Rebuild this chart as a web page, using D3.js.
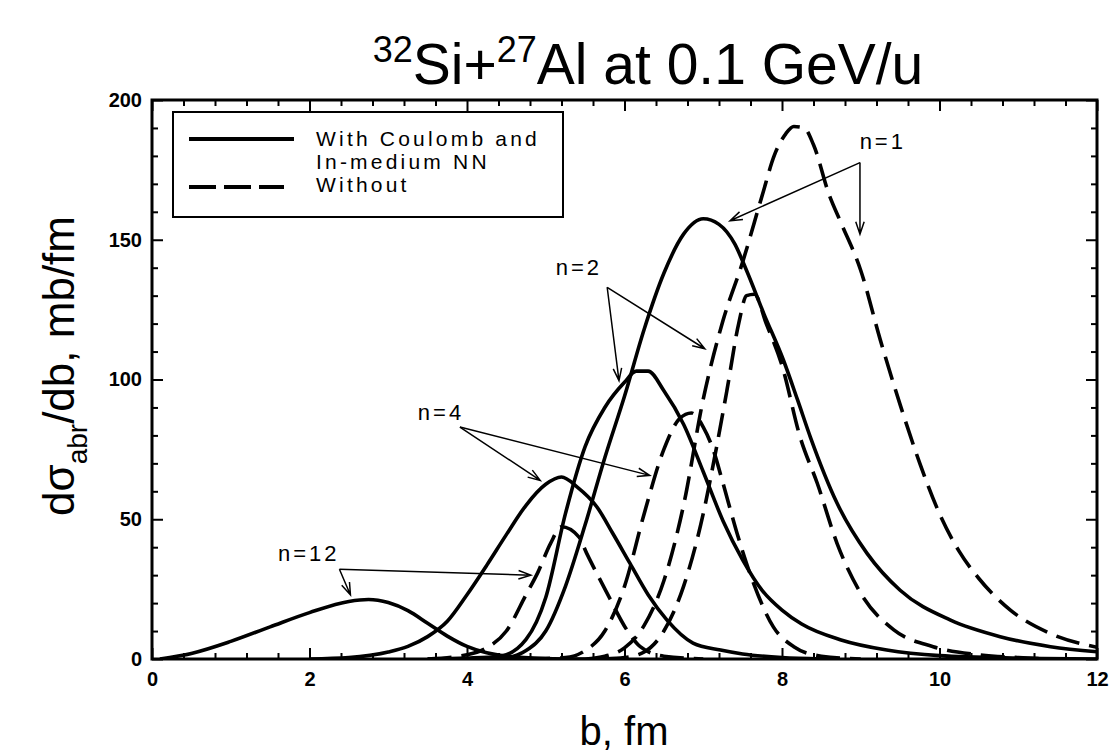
<!DOCTYPE html>
<html>
<head>
<meta charset="utf-8">
<script src="https://cdn.jsdelivr.net/npm/d3@7"></script>
<style>
  body { margin: 0; background: #fff; }
  svg { display: block; }
</style>
</head>
<body>
<svg id="chart" width="1111" height="756"></svg>
<script>
// b (fm), dsigma/db (mb/fm)
// "With Coulomb and In-medium NN" (solid)
const n1With = [[4.0,0],[4.5,0.5],[4.75,3],[5.0,10],[5.25,26],[5.5,48],[5.75,72],[6.0,94],[6.25,118],[6.5,138],[6.75,152],[7.0,157.5],[7.2,155.5],[7.4,148.5],[7.55,139],[7.77,123.5],[8.02,106.8],[8.2,92.5],[8.36,79.4],[8.7,55.7],[9.08,37.8],[9.5,24.6],[10.14,13.9],[10.77,8],[11.41,4.4],[12,2.6]];
const n2With = [[3.5,0],[4.0,0.3],[4.42,1],[4.75,7],[5.0,22],[5.25,52],[5.5,76],[5.75,90],[6.0,99],[6.15,103],[6.3,103],[6.5,96],[6.75,84],[7.0,67],[7.25,49.5],[7.5,35.5],[7.75,24.5],[8.0,17.5],[8.25,12.5],[8.75,6.8],[9.33,3.2],[10,1.2],[11,0.3],[12,0]];
const n4With = [[2.0,0],[2.5,0.5],[3.0,2.5],[3.25,4.5],[3.5,8],[3.75,13.5],[4.0,23],[4.25,33.5],[4.5,44.5],[4.75,55],[5.0,62.5],[5.2,65.1],[5.4,61.5],[5.65,54.4],[5.85,45],[6.07,34.2],[6.3,23],[6.54,13.9],[6.87,5.7],[7.22,3.2],[7.5,1.8],[8.0,0.5],[8.5,0]];
const n12With = [[0.1,0],[0.5,2],[1.0,6.3],[1.5,11.5],[2.0,16.6],[2.5,20.6],[2.75,21.3],[3.0,20.2],[3.25,17.3],[3.5,12.8],[3.75,8.2],[4.0,4.5],[4.25,2.2],[4.5,1.0],[5.0,0.2],[5.5,0]];
// "Without" (dashed)
const n1Without = [[5.5,0],[5.75,1],[6.0,4],[6.25,12],[6.5,28],[6.75,55],[7.0,93],[7.25,121],[7.5,142],[7.75,166],[7.9,180],[8.05,188],[8.15,190.5],[8.28,190],[8.4,184],[8.6,166],[8.75,156],[9.0,139],[9.25,114],[9.5,91],[9.75,70],[10.0,52],[10.25,38.5],[10.5,28.8],[10.9,17.5],[11.4,9.2],[12,4.2]];
const n2Without = [[5.75,0],[6.0,0.5],[6.25,2.5],[6.5,10],[6.75,26],[7.0,52],[7.15,73],[7.3,96],[7.45,120],[7.55,130],[7.65,130.5],[7.8,120],[8.0,105],[8.23,79.4],[8.45,62.7],[8.7,41.3],[9.0,23.5],[9.42,10.4],[9.92,4.4],[10.5,1.5],[11,0.5],[11.5,0]];
const n4Without = [[4.75,0],[5.25,0.5],[5.5,3],[5.75,10],[6.0,26],[6.25,52],[6.5,75],[6.7,86],[6.85,88],[7.0,83],[7.13,74.6],[7.25,63],[7.43,44.9],[7.64,27],[7.89,11.5],[8.15,4.4],[8.5,1],[9.0,0]];
const n12Without = [[3.5,0],[4.0,1.5],[4.25,4],[4.5,10],[4.75,23],[4.9,31],[5.06,41.3],[5.2,47.3],[5.42,43.7],[5.52,37.8],[5.78,23.5],[6.03,10.4],[6.2,4.4],[6.5,1],[7.0,0]];

const xTicks = [0, 2, 4, 6, 8, 10, 12];
const yTicks = [0, 50, 100, 150, 200];

// annotations: label position, arrow start, arrow targets (data units)
const labels = ["n=1", "n=2", "n=4", "n=12"];
const labelPos = [[9.28,185.4],[5.42,140.1],[3.67,88.3],[1.99,37.75]];
const arrowFrom = [[8.99,177.6],[5.78,133],[3.91,83],[2.38,32.1]];
const arrowTo = [
  [[7.34,156.8],[8.99,152]],
  [[5.93,99.6],[7.02,111]],
  [[4.93,63.9],[6.32,65.7]],
  [[2.52,22.9],[4.81,30]]
];

const svg = d3.select("#chart");
const font = "'Liberation Sans', Arial, sans-serif";

const x = d3.scaleLinear().domain([0, 12]).range([152, 1097]);
const y = d3.scaleLinear().domain([0, 200]).range([659, 100]);

svg.append("clipPath").attr("id", "plotClip")
  .append("rect")
  .attr("x", x(0)).attr("y", y(200))
  .attr("width", x(12) - x(0)).attr("height", y(0) - y(200));

// ticks (inward on all four sides)
const minorX = d3.range(0, 12.01, 0.4).filter(v => Math.abs(v / 2 - Math.round(v / 2)) > 0.01);
const minorY = d3.range(0, 201, 10).filter(v => v % 50 !== 0);

[[d3.axisBottom, "translate(0,659)", true], [d3.axisTop, "translate(0,100)", false]].forEach(([ax, tr, lab]) => {
  svg.append("g").attr("transform", tr)
    .call(ax(x).tickValues(xTicks).tickSize(-11).tickPadding(13).tickFormat(lab ? d3.format("d") : ""))
    .call(g => g.select(".domain").remove());
  svg.append("g").attr("transform", tr)
    .call(ax(x).tickValues(minorX).tickSize(-6).tickFormat(""))
    .call(g => g.select(".domain").remove());
});
[[d3.axisLeft, "translate(152,0)", true], [d3.axisRight, "translate(1097,0)", false]].forEach(([ax, tr, lab]) => {
  svg.append("g").attr("transform", tr)
    .call(ax(y).tickValues(yTicks).tickSize(-11).tickPadding(10).tickFormat(lab ? d3.format("d") : ""))
    .call(g => g.select(".domain").remove());
  svg.append("g").attr("transform", tr)
    .call(ax(y).tickValues(minorY).tickSize(-6).tickFormat(""))
    .call(g => g.select(".domain").remove());
});

svg.selectAll(".tick line").attr("stroke", "#000").attr("stroke-width", 2);
svg.selectAll(".tick text")
  .attr("font-family", font)
  .attr("font-size", 20)
  .attr("font-weight", "bold")
  .attr("fill", "#000");

// frame
svg.append("rect")
  .attr("x", x(0)).attr("y", y(200))
  .attr("width", x(12) - x(0)).attr("height", y(0) - y(200))
  .attr("fill", "none").attr("stroke", "#000").attr("stroke-width", 3);

// curves
const line = d3.line()
  .x(d => x(d[0]))
  .y(d => y(d[1]))
  .curve(d3.curveMonotoneX);

const curves = svg.append("g").attr("clip-path", "url(#plotClip)");
[n1With, n2With, n4With, n12With].forEach(s => {
  curves.append("path").attr("d", line(s))
    .attr("fill", "none").attr("stroke", "#000").attr("stroke-width", 3.6)
    .attr("stroke-linejoin", "round");
});
[n1Without, n2Without, n4Without, n12Without].forEach(s => {
  curves.append("path").attr("d", line(s))
    .attr("fill", "none").attr("stroke", "#000").attr("stroke-width", 3.6)
    .attr("stroke-dasharray", "24,10");
});

// legend
const legend = svg.append("g");
legend.append("rect")
  .attr("x", 173).attr("y", 112).attr("width", 390).attr("height", 105)
  .attr("fill", "#fff").attr("stroke", "#000").attr("stroke-width", 2);
legend.append("line").attr("x1", 189).attr("x2", 294).attr("y1", 139).attr("y2", 139)
  .attr("stroke", "#000").attr("stroke-width", 4);
legend.append("line").attr("x1", 189).attr("x2", 284).attr("y1", 187).attr("y2", 187)
  .attr("stroke", "#000").attr("stroke-width", 4).attr("stroke-dasharray", "27,8");
[["With Coulomb and", 146], ["In-medium NN", 169], ["Without", 192]].forEach(([t, yy]) => {
  legend.append("text").attr("x", 316).attr("y", yy).text(t)
    .attr("font-family", font).attr("font-size", 21).attr("letter-spacing", 3.2);
});

// annotations
const ann = svg.append("g");
labels.forEach((t, i) => {
  ann.append("text")
    .attr("x", x(labelPos[i][0])).attr("y", y(labelPos[i][1]) + 8)
    .attr("text-anchor", "middle")
    .attr("font-family", font).attr("font-size", 22).attr("letter-spacing", 3)
    .text(t);
  arrowTo[i].forEach(to => {
    const x1 = x(arrowFrom[i][0]), y1 = y(arrowFrom[i][1]);
    const x2 = x(to[0]), y2 = y(to[1]);
    const a = Math.atan2(y2 - y1, x2 - x1);
    const len = 13, spread = 0.33;
    ann.append("path")
      .attr("d", `M${x1},${y1}L${x2},${y2}` +
        `M${x2 - len * Math.cos(a - spread)},${y2 - len * Math.sin(a - spread)}L${x2},${y2}` +
        `L${x2 - len * Math.cos(a + spread)},${y2 - len * Math.sin(a + spread)}`)
      .attr("fill", "none").attr("stroke", "#000").attr("stroke-width", 1.5);
  });
});

// title
const title = svg.append("text")
  .attr("x", 648).attr("y", 84)
  .attr("text-anchor", "middle")
  .attr("font-family", font).attr("font-size", 57);
title.append("tspan").attr("font-size", 36).attr("dy", -22).text("32");
title.append("tspan").attr("dy", 22).text("Si+");
title.append("tspan").attr("font-size", 36).attr("dy", -22).text("27");
title.append("tspan").attr("dy", 22).text("Al at 0.1 GeV/u");

// axis titles
svg.append("text")
  .attr("x", 624).attr("y", 745)
  .attr("text-anchor", "middle")
  .attr("font-family", font).attr("font-size", 40)
  .text("b, fm");

const yl = svg.append("text")
  .attr("transform", "translate(74,366) rotate(-90)")
  .attr("text-anchor", "middle")
  .attr("font-family", font).attr("font-size", 44);
yl.append("tspan").text("dσ");
yl.append("tspan").attr("font-size", 28).attr("dy", 13).text("abr");
yl.append("tspan").attr("dy", -13).text("/db, mb/fm");
</script>
</body>
</html>
